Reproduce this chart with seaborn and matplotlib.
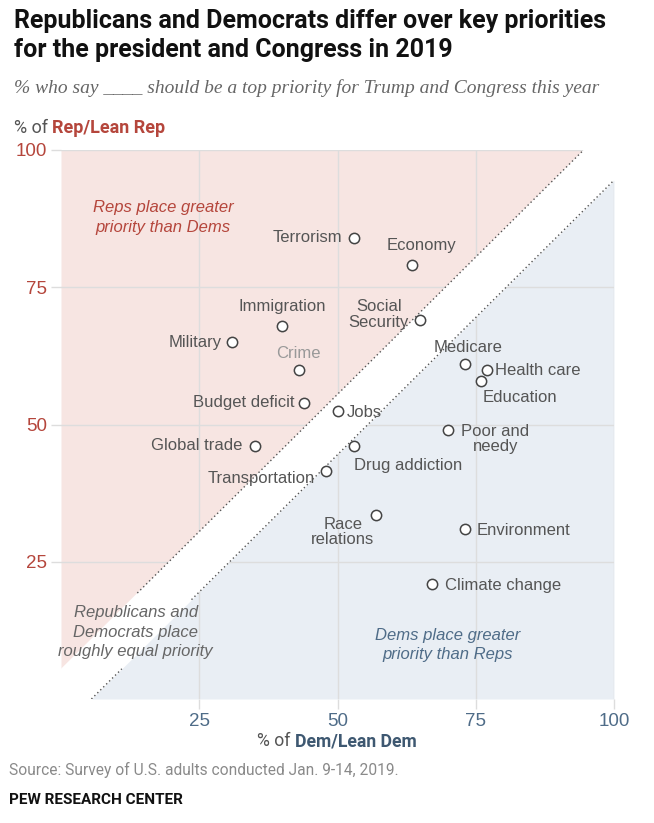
import numpy as np
import pandas as pd
import seaborn as sns
from matplotlib import pyplot as plt
from matplotlib import font_manager

# values: % Dem/Lean Dem (x) and % Rep/Lean Rep (y)
issues = ["Terrorism", "Economy", "Immigration", "Social\nSecurity", "Military",
          "Crime", "Medicare", "Health care", "Education", "Budget deficit",
          "Jobs", "Global trade", "Poor and\nneedy", "Drug addiction",
          "Transportation", "Race\nrelations", "Environment", "Climate change"]
dem_pct = [53, 63.5, 40, 65, 31, 43, 73, 77, 76, 44, 50, 35, 70, 53, 48, 57, 73, 67]
rep_pct = [84, 79, 68, 69, 65, 60, 61, 60, 58, 54, 52.5, 46, 49, 46, 41.5, 33.5, 31, 21]

ticks = [25, 50, 75, 100]
band = 5.5  # half-width of the "roughly equal" band

df = pd.DataFrame({"issue": issues, "dem": dem_pct, "rep": rep_pct})

# label placement: offset (points) and alignment
label_pos = {
    "Terrorism": (-8.4, 0, "right"),
    "Economy": (6.8, 14, "center"),
    "Immigration": (0, 14, "center"),
    "Social\nSecurity": (-30, 4, "center"),
    "Military": (-7.7, 0, "right"),
    "Crime": (0, 11.5, "center"),
    "Medicare": (2.4, 12, "center"),
    "Health care": (6, -0.7, "left"),
    "Education": (1, -12, "left"),
    "Budget deficit": (-7, 0, "right"),
    "Jobs": (7, -1.2, "left"),
    "Global trade": (-9, 1, "right"),
    "Poor and\nneedy": (9.6, -6.4, "left"),
    "Drug addiction": (0, -13.7, "left"),
    "Transportation": (-8, -5.5, "right"),
    "Race\nrelations": (-24, -12.2, "center"),
    "Environment": (8.4, -1, "left"),
    "Climate change": (10, -1.2, "left"),
}

sns.set_theme(style="white")
plt.rcParams["font.family"] = ["Liberation Sans", "DejaVu Sans"]
installed = {f.name for f in font_manager.fontManager.ttflist}
narrow = "Liberation Sans Narrow" if "Liberation Sans Narrow" in installed else "Roboto"

pink = "#f7e5e2"
blue = "#e9eef4"
red = "#b5463c"
slate = "#4f6c88"
gridc = "#dddddd"

fig = plt.figure(figsize=(6.54, 8.23), dpi=100)
ax = fig.add_axes([61 / 654, 1 - 699 / 823, 553 / 654, 549 / 823])

ax.fill_between([0, 100 - band], [band, 100], 100, color=pink, lw=0, zorder=0.2)
ax.fill_between([band, 100], [0, 100 - band], 0, color=blue, lw=0, zorder=0.2)
ax.fill([0, band, 100, 100, 100 - band, 0], [0, 0, 100 - band, 100, 100, band],
        color="white", lw=0, zorder=0.8)

dot = dict(color="#555555", lw=1.0, ls=(0, (1, 2)), zorder=2)
ax.plot([13.8, 100 - band], [13.8 + band, 100], **dot)
ax.plot([band, 11], [0, 11 - band], **dot)
ax.plot([23.6, 100], [23.6 - band, 100 - band], **dot)

sns.scatterplot(data=df, x="dem", y="rep", ax=ax, s=55, color="white",
                edgecolor="#444444", linewidth=1.1, zorder=4, legend=False)

for name, xv, yv in zip(issues, dem_pct, rep_pct):
    dx, dy, ha = label_pos[name]
    ax.annotate(name, (xv, yv), xytext=(dx, dy), textcoords="offset points",
                ha=ha, va="center", ma="center", fontsize=12, linespacing=1.05,
                color="#999999" if name == "Crime" else "#555555", zorder=5)

ax.text(18.5, 87.7, "Reps place greater\npriority than Dems", ha="center", va="center",
        style="italic", fontsize=12, color=red, linespacing=1.35)
ax.text(13.5, 12.2, "Republicans and\nDemocrats place\nroughly equal priority",
        ha="center", va="center", style="italic", fontsize=12, color="#666666",
        linespacing=1.35)
ax.text(70, 9.9, "Dems place greater\npriority than Reps", ha="center", va="center",
        style="italic", fontsize=12, color=slate, linespacing=1.35)

ax.set_xlim(0, 100)
ax.set_ylim(0, 100)
ax.set_xticks(ticks)
ax.set_yticks(ticks)
ax.set_xlabel("")
ax.set_ylabel("")
ax.set_axisbelow(True)
ax.grid(True, color=gridc, lw=1)
ax.tick_params(length=7, width=1, color=gridc, labelsize=13.5, pad=3,
               bottom=True, left=True)
for t in ax.get_yticklabels():
    t.set_color(red)
for t in ax.get_xticklabels():
    t.set_color(slate)
sns.despine(ax=ax, left=True, bottom=True)

# axis titles built from two pieces
t1 = fig.text(14 / 654, 1 - 128 / 823, "% of ", fontsize=13, color="#555555",
              family=narrow, va="center")
ax.annotate("Rep/Lean Rep", xy=(1, 0.5), xycoords=t1, va="center", ha="left",
            fontsize=13, color=red, weight="bold", family=narrow)
t2 = fig.text(257 / 654, 1 - 741 / 823, "% of ", fontsize=12.7, color="#555555",
              family=narrow, va="center")
ax.annotate("Dem/Lean Dem", xy=(1, 0.5), xycoords=t2, va="center", ha="left",
            fontsize=12.7, color="#3e5871", weight="bold", family=narrow)

fig.text(14 / 654, 1 - 9 / 823,
         "Republicans and Democrats differ over key priorities\nfor the president and Congress in 2019",
         ha="left", va="top", fontsize=18, weight="bold", family=narrow,
         color="#111111", linespacing=1.28)
fig.text(14 / 654, 1 - 88 / 823,
         "% who say ____ should be a top priority for Trump and Congress this year",
         ha="left", va="center", fontsize=14, style="italic",
         family=["Liberation Serif", "DejaVu Serif"], color="#666666")
fig.text(9 / 654, 1 - 770 / 823, "Source: Survey of U.S. adults conducted Jan. 9-14, 2019.",
         ha="left", va="center", fontsize=11.2, color="#8a8a8a", family=narrow)
fig.text(9 / 654, 1 - 800 / 823, "PEW RESEARCH CENTER", ha="left", va="center",
         fontsize=11, weight="bold", color="#111111", family=narrow)

fig.savefig("out.png", dpi=100)
